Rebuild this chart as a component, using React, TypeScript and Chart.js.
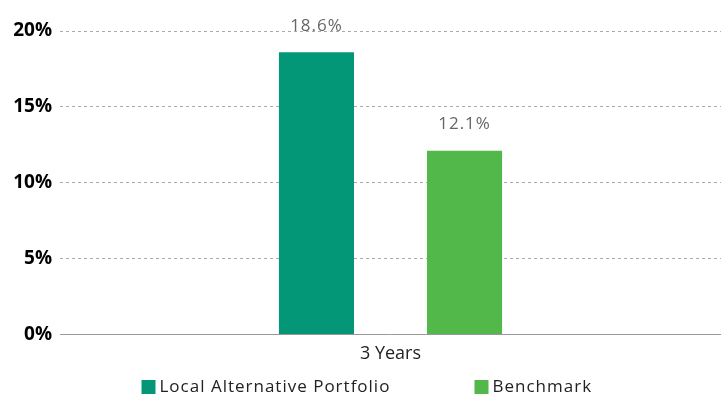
import React, { useEffect, useRef } from "react";
import { Chart, registerables } from "chart.js";

Chart.register(...registerables);

const categories = ["3 Years"];
const seriesNames = ["Local Alternative Portfolio", "Benchmark"];
const portfolioValues = [18.6];
const benchmarkValues = [12.1];
const seriesColors = ["#039778", "#52b84a"];
const yTicks = [0, 5, 10, 15, 20];

const FONT = "'Open Sans', 'DejaVu Sans', sans-serif";

const valueLabelPlugin = {
  id: "valueLabels",
  afterDatasetsDraw(chart: any) {
    const ctx = chart.ctx;
    ctx.save();
    ctx.font = `400 17px ${FONT}`;
    (ctx as any).letterSpacing = "1px";
    ctx.fillStyle = "#666666";
    ctx.textAlign = "center";
    ctx.textBaseline = "bottom";
    chart.data.datasets.forEach((ds: any, i: number) => {
      const meta = chart.getDatasetMeta(i);
      meta.data.forEach((bar: any, j: number) => {
        ctx.fillText(ds.data[j].toFixed(1) + "%", bar.x, bar.y - 18);
      });
    });
    ctx.restore();
  },
};

const customLegendPlugin = {
  id: "customLegend",
  afterDraw(chart: any) {
    const ctx = chart.ctx;
    const { left, right } = chart.chartArea;
    const cx = (left + right) / 2;
    const y = chart.height - 9;
    const starts = [cx - 249, cx + 84];
    ctx.save();
    ctx.font = `400 17px ${FONT}`;
    (ctx as any).letterSpacing = "1px";
    ctx.textBaseline = "middle";
    ctx.textAlign = "left";
    chart.data.datasets.forEach((ds: any, i: number) => {
      const x = starts[i];
      ctx.fillStyle = ds.backgroundColor;
      ctx.fillRect(x, y - 7, 14, 14);
      ctx.fillStyle = "#222222";
      ctx.fillText(ds.label, x + 18, y);
    });
    ctx.restore();
  },
};

export default function App() {
  const ref = useRef<HTMLCanvasElement>(null);
  useEffect(() => {
    document.body.style.margin = "0";
    const chart = new Chart(ref.current!, {
      type: "bar",
      data: {
        labels: categories,
        datasets: [
          {
            label: seriesNames[0],
            data: portfolioValues,
            backgroundColor: seriesColors[0],
            categoryPercentage: 0.448,
            barPercentage: 0.507,
          },
          {
            label: seriesNames[1],
            data: benchmarkValues,
            backgroundColor: seriesColors[1],
            categoryPercentage: 0.448,
            barPercentage: 0.507,
          },
        ],
      },
      plugins: [valueLabelPlugin, customLegendPlugin],
      options: {
        animation: false,
        responsive: false,
        maintainAspectRatio: false,
        layout: { padding: { top: 31, right: 0, left: 0, bottom: 22 } },
        plugins: {
          legend: { display: false },
          tooltip: { enabled: false },
        },
        scales: {
          x: {
            grid: { display: false, drawTicks: false },
            border: { display: false },
            ticks: {
              color: "#222222",
              font: { family: FONT, size: 18 },
              padding: 9,
            },
          },
          y: {
            min: 0,
            max: 20,
            afterFit: (scale: any) => {
              scale.width = 60;
            },
            afterBuildTicks: (axis: any) => {
              axis.ticks = yTicks.map((v) => ({ value: v }));
            },
            grid: {
              color: (c: any) => (c.tick && c.tick.value === 0 ? "#999999" : "#aaaaaa"),
              lineWidth: 1,
              drawTicks: false,
            },
            border: { display: false, dash: (c: any) => (c.tick && c.tick.value === 0 ? [] : [3, 3]) },
            ticks: {
              color: "#000000",
              font: { family: FONT, size: 19, weight: "bold" },
              padding: 8,
              callback: (v: any) => v + "%",
            },
          },
        },
      },
    } as any);
    return () => chart.destroy();
  }, []);
  return <canvas ref={ref} width={721} height={396} style={{ display: "block" }} />;
}
